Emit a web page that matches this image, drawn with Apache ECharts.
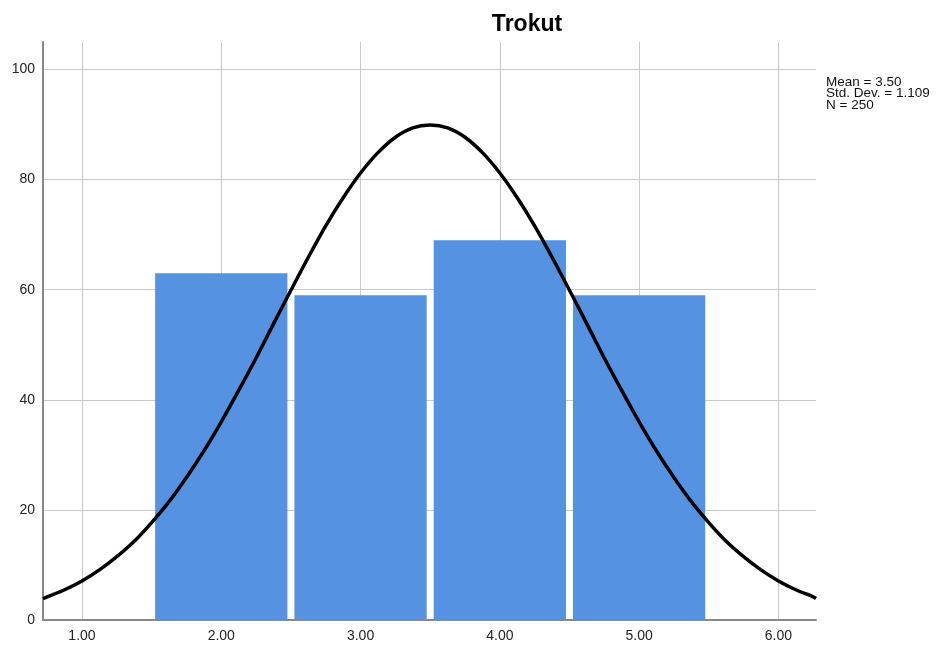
<!DOCTYPE html>
<html><head><meta charset="utf-8">
<script src="https://cdn.jsdelivr.net/npm/echarts@6/dist/echarts.min.js"></script>
<style>html,body{margin:0;padding:0;background:#fff}#c{width:942px;height:646px}</style>
</head><body><div id="c"></div>
<script>
// Histogram bins (lower edge, upper edge) and counts
const binStarts = [1.5, 2.5, 3.5, 4.5];
const binEnds = [2.5, 3.5, 4.5, 5.5];
const counts = [63, 59, 69, 59];
// Normal curve values
const curveX = [0.72, 0.75, 0.875, 1.0, 1.125, 1.25, 1.375, 1.5, 1.625, 1.75, 1.875, 2.0, 2.125, 2.25, 2.375, 2.5, 2.625, 2.75, 2.875, 3.0, 3.125, 3.25, 3.375, 3.5,
  3.625, 3.75, 3.875, 4.0, 4.125, 4.25, 4.375, 4.5, 4.625, 4.75, 4.875, 5.0, 5.125, 5.25, 5.375, 5.5, 5.625, 5.75, 5.875, 6.0, 6.125, 6.25, 6.27];
const curveY = [3.9, 4.2, 5.5, 7.1, 9.1, 11.5, 14.3, 17.7, 21.5, 25.9, 30.7, 36.0, 41.7, 47.6, 53.8, 59.9, 65.9, 71.6, 76.7, 81.2, 84.9, 87.7, 89.4, 89.9,
  89.4, 87.7, 84.9, 81.2, 76.7, 71.6, 65.9, 59.9, 53.8, 47.6, 41.7, 36.0, 30.7, 25.9, 21.5, 17.7, 14.3, 11.5, 9.1, 7.1, 5.5, 4.2, 3.9];
const xTicks = [1, 2, 3, 4, 5, 6];
const yTicks = [0, 20, 40, 60, 80, 100];
const statsLines = ['Mean = 3.50', 'Std. Dev. = 1.109', 'N = 250'];
const titleText = 'Trokut';

const chart = echarts.init(document.getElementById('c'), null, {renderer: 'canvas'});
const barData = counts.map((c, i) => [binStarts[i], binEnds[i], c]);
const lineData = curveX.map((x, i) => [x, curveY[i]]);
const font = 'Liberation Sans, Arial, sans-serif';

chart.setOption({
  animation: false,
  backgroundColor: '#fff',
  title: {
    text: titleText, left: 522, top: 8, textAlign: 'center',
    textStyle: {fontFamily: font, fontSize: 23, fontWeight: 'bold', color: '#000'}
  },
  graphic: [{
    type: 'text', left: 826, top: 75,
    style: {text: statsLines.join('\n'), font: '13.5px ' + font, lineHeight: 11.7, fill: '#111'}
  }],
  grid: {left: 43, right: 126, top: 42, bottom: 26, containLabel: false},
  xAxis: {
    type: 'value', min: 0.72, max: 6.27,
    axisLine: {show: true, lineStyle: {color: '#888', width: 2}},
    axisTick: {show: false, customValues: xTicks},
    axisLabel: {customValues: xTicks, formatter: v => v.toFixed(2), color: '#222', fontFamily: font, fontSize: 14, margin: 9},
    splitLine: {show: true, lineStyle: {color: '#c8c8c8', width: 1}}
  },
  yAxis: {
    type: 'value', min: 0, max: 105,
    axisLine: {show: true, lineStyle: {color: '#888', width: 2}},
    axisTick: {show: false, customValues: yTicks},
    axisLabel: {customValues: yTicks, color: '#222', fontFamily: font, fontSize: 14, margin: 8},
    splitLine: {show: true, lineStyle: {color: '#c8c8c8', width: 1}}
  },
  series: [{
    type: 'custom',
    data: barData,
    encode: {x: [0, 1], y: 2},
    renderItem: (params, api) => {
      const p0 = api.coord([api.value(0), api.value(2)]);
      const p1 = api.coord([api.value(1), 0]);
      const inset = 3.5;
      return {
        type: 'rect',
        shape: {x: p0[0] + inset, y: p0[1], width: p1[0] - p0[0] - 2 * inset, height: p1[1] - p0[1] - 1},
        style: {fill: '#5592e2'}
      };
    },
    z: 2
  }, {
    type: 'line', data: lineData, smooth: 0.3, showSymbol: false,
    lineStyle: {color: '#000', width: 3.5}, z: 3
  }]
});
</script></body></html>
